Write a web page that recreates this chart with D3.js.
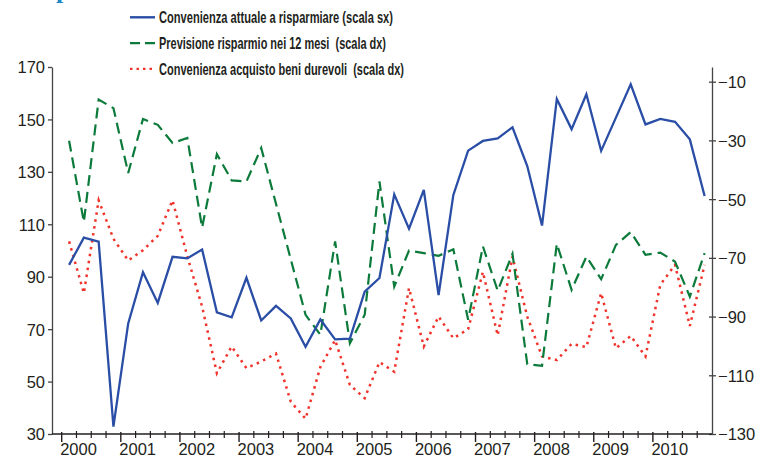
<!DOCTYPE html>
<html>
<head>
<meta charset="utf-8">
<script src="https://cdn.jsdelivr.net/npm/d3@7.9.0/dist/d3.min.js"></script>
<style>
  body { margin: 0; background: #fff; }
  svg { display: block; font-family: "Liberation Sans", Arial, sans-serif; }
</style>
</head>
<body>
<svg id="chart" width="760" height="457"></svg>
<script>
// quarterly data 2000Q1 - 2010Q4
const years = d3.range(2000, 2011);
const quarters = d3.range(2000, 2011, 0.25).map((y) => y + 0.125);

// Convenienza attuale a risparmiare (scala sx)
const convAttuale = [94.5, 104.9, 103.4, 32.8, 72.2, 91.7, 80.0, 97.6, 97.0, 100.4, 76.4, 74.5,
  89.6, 73.3, 78.9, 74.1, 63.3, 73.7, 66.1, 66.4, 84.3, 89.5, 121.4, 108.3, 123.1, 83.0,
  121.2, 138.1, 141.8, 142.8, 147.0, 132.2, 109.5, 157.8, 146.3, 159.6, 138.0, 150.7,
  163.4, 148.1, 150.2, 149.1, 142.4, 120.8];

// Previsione risparmio nei 12 mesi (scala dx)
const previsione = [-30.1, -57.8, -16.1, -19.0, -41.1, -22.7, -24.7, -30.9, -29.2, -59.7, -34.7, -43.6,
  -44.0, -32.6, -51.6, -70.5, -89.4, -96.2, -64.4, -99.1, -89.4, -44.0, -79.8, -67.5, -68.4,
  -69.3, -67.1, -91.1, -66.1, -81.2, -68.6, -106.2, -106.8, -65.2, -80.9, -69.6, -77.3,
  -65.6, -61.2, -69.0, -68.2, -71.3, -83.2, -68.4];

// Convenienza acquisto beni durevoli (scala dx)
const beniDurevoli = [-64.4, -82.0, -50.4, -63.5, -70.9, -67.4, -62.5, -50.4, -69.5, -86.6, -109.3, -100.2,
  -107.6, -105.3, -102.6, -119.0, -124.8, -107.2, -98.0, -113.3, -117.8, -105.5, -108.8,
  -80.3, -100.2, -90.0, -97.4, -94.3, -74.8, -96.4, -69.6, -90.0, -103.6, -104.8, -99.3,
  -100.4, -82.0, -100.8, -96.6, -103.6, -79.2, -72.4, -93.2, -72.4];

const leftTicks = [30, 50, 70, 90, 110, 130, 150, 170];
const rightTicks = [-130, -110, -90, -70, -50, -30, -10];

const legendItems = [
  { label: 'Convenienza attuale a risparmiare (scala sx)', color: '#2a4ea6', dash: null, width: 234 },
  { label: 'Previsione risparmio nei 12 mesi  (scala dx)', color: '#0b7a3a', dash: '10,5', width: 227 },
  { label: 'Convenienza acquisto beni durevoli  (scala dx)', color: '#f0332b', dash: '2.5,4', width: 245 },
];

const svg = d3.select('#chart');

const x = d3.scaleLinear().domain([1999.836, 2011]).range([52, 712]);
const yL = d3.scaleLinear().domain([30, 170]).range([434, 67]);
const yR = d3.scaleLinear().domain([-130, -5]).range([434, 67]);

// cut off title at the very top
svg.append('text')
  .attr('x', 56).attr('y', -2)
  .attr('font-family', '"Liberation Serif", serif')
  .attr('font-weight', 'bold')
  .attr('font-size', 26)
  .attr('fill', '#1b86c6')
  .text('p');

// left axis
const axL = svg.append('g')
  .attr('transform', 'translate(52,0)')
  .call(d3.axisLeft(yL).tickValues(leftTicks).tickSize(4).tickSizeOuter(0));
axL.select('.domain').attr('stroke', '#444').attr('stroke-width', 1.3);
axL.selectAll('.tick line').attr('stroke', '#444').attr('stroke-width', 1.3);
axL.selectAll('.tick text')
  .attr('x', -7).attr('dy', '0.36em')
  .attr('font-size', 16.5).attr('fill', '#231f20')
  .attr('font-family', '"Liberation Sans", Arial, sans-serif');

// right axis
const axR = svg.append('g')
  .attr('transform', 'translate(712,0)')
  .call(d3.axisRight(yR).tickValues(rightTicks).tickSize(4).tickSizeOuter(0));
axR.select('.domain').attr('stroke', '#444').attr('stroke-width', 1.3);
axR.selectAll('.tick line').attr('x1', -3).attr('stroke', '#444').attr('stroke-width', 1.3);
axR.selectAll('.tick text')
  .attr('x', 6).attr('dy', '0.36em')
  .attr('font-size', 16.5).attr('fill', '#231f20')
  .attr('font-family', '"Liberation Sans", Arial, sans-serif');

// bottom axis: quarter ticks + year ticks
const xAxisG = svg.append('g').attr('transform', 'translate(0,434)');
xAxisG.append('line')
  .attr('x1', x.range()[0]).attr('x2', x.range()[1])
  .attr('stroke', '#231f20').attr('stroke-width', 1.5);
const minor = d3.range(2000, 2011, 0.25).filter((d) => d % 1 !== 0);
xAxisG.selectAll('.minor')
  .data(minor)
  .join('line')
  .attr('class', 'minor')
  .attr('x1', (d) => x(d)).attr('x2', (d) => x(d))
  .attr('y1', -3).attr('y2', 4)
  .attr('stroke', '#231f20').attr('stroke-width', 1.2);
xAxisG.selectAll('.major')
  .data(years)
  .join('line')
  .attr('class', 'major')
  .attr('x1', (d) => x(d)).attr('x2', (d) => x(d))
  .attr('y1', -2).attr('y2', 8)
  .attr('stroke', '#231f20').attr('stroke-width', 1.4);
xAxisG.selectAll('.year')
  .data(years)
  .join('text')
  .attr('class', 'year')
  .attr('x', (d) => x(d) - 1.5)
  .attr('y', 21)
  .attr('font-size', 16.5).attr('fill', '#231f20')
  .text((d) => d);

// series
const lineL = d3.line().x((d, i) => x(quarters[i])).y((d) => yL(d));
const lineR = d3.line().x((d, i) => x(quarters[i])).y((d) => yR(d));

svg.append('path')
  .datum(beniDurevoli)
  .attr('d', lineR)
  .attr('fill', 'none')
  .attr('stroke', '#f0332b')
  .attr('stroke-width', 2.5)
  .attr('stroke-dasharray', '2.5,4.5');

svg.append('path')
  .datum(previsione)
  .attr('d', lineR)
  .attr('fill', 'none')
  .attr('stroke', '#0b7a3a')
  .attr('stroke-width', 2.2)
  .attr('stroke-dasharray', '11,6');

svg.append('path')
  .datum(convAttuale)
  .attr('d', lineL)
  .attr('fill', 'none')
  .attr('stroke', '#2a4ea6')
  .attr('stroke-width', 2.3)
  .attr('stroke-linejoin', 'miter');

// legend
const legend = svg.append('g');
legendItems.forEach((item, i) => {
  const ly = 17.3 + i * 25.8;
  legend.append('line')
    .attr('x1', 130).attr('x2', 155)
    .attr('y1', ly).attr('y2', ly)
    .attr('stroke', item.color)
    .attr('stroke-width', 2.4)
    .attr('stroke-dasharray', item.dash);
  legend.append('text')
    .attr('x', 159).attr('y', ly + 6)
    .attr('font-size', 17).attr('font-weight', 'bold')
    .attr('fill', '#231f20')
    .attr('textLength', item.width)
    .attr('lengthAdjust', 'spacingAndGlyphs')
    .style('white-space', 'pre')
    .text(item.label);
});
</script>
</body>
</html>
